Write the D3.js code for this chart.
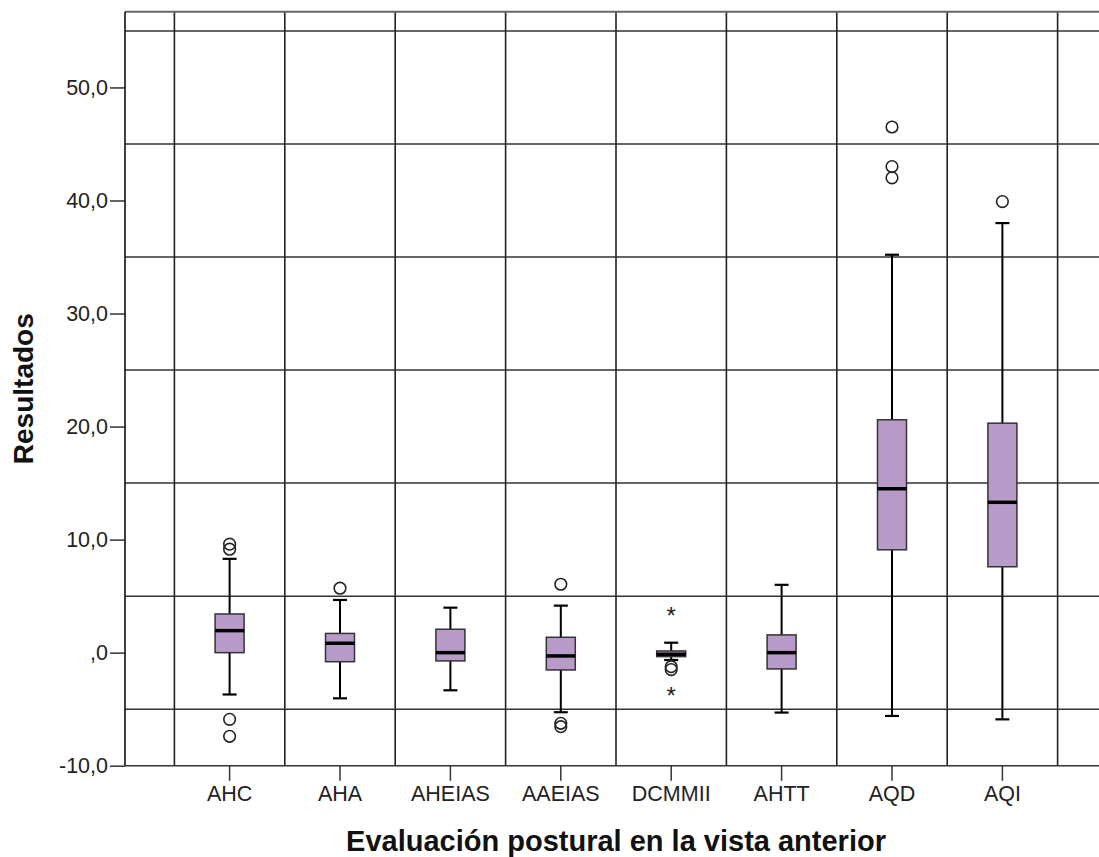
<!DOCTYPE html>
<html>
<head>
<meta charset="utf-8">
<script src="https://cdn.jsdelivr.net/npm/d3@7"></script>
<style>
  body { margin: 0; background: #fff; }
  text { font-family: Arial, "Liberation Sans", sans-serif; }
</style>
</head>
<body>
<div id="chart"></div>
<script>
// values
var categories = ['AHC', 'AHA', 'AHEIAS', 'AAEIAS', 'DCMMII', 'AHTT', 'AQD', 'AQI'];
var q1 =         [0.0, -0.8, -0.73, -1.53, -0.35, -1.44, 9.1, 7.6];
var medians =    [1.95, 0.83, 0.0, -0.29, -0.14, 0.0, 14.5, 13.3];
var q3 =         [3.42, 1.7, 2.07, 1.36, 0.15, 1.57, 20.6, 20.3];
var whiskerLow = [-3.7, -4.04, -3.33, -5.27, -0.65, -5.3, -5.6, -5.9];
var whiskerHigh = [8.3, 4.66, 3.98, 4.16, 0.88, 6.0, 35.2, 38.0];
var outliers = [
  [9.15, 9.6, -5.9, -7.4],
  [5.7],
  [],
  [6.05, -6.25, -6.55],
  [-1.24, -1.5],
  [],
  [46.5, 43.0, 42.0],
  [39.9]
];
var extremes = [[], [], [], [], [3.7, -3.4], [], [], []];
var yTicks = [-10, 0, 10, 20, 30, 40, 50];
var yGrid = [-5, 5, 15, 25, 35, 45, 55];

var W = 1099, H = 857;
var plotLeft = 125, plotTop = 11.7, plotBottom = 765.7, plotRight = 1110;

var svg = d3.select('#chart')
  .append('svg')
  .attr('width', W)
  .attr('height', H);

var x = d3.scaleBand().domain(categories).range([174.4, 1057.6]).padding(0),
    y = d3.scaleLinear().domain([-10, 56.7]).range([plotBottom, plotTop]);

var data = categories.map(function(c, i) {
  return { name: c, q1: q1[i], med: medians[i], q3: q3[i], lo: whiskerLow[i], hi: whiskerHigh[i],
           out: outliers[i], ext: extremes[i] };
});

// horizontal grid lines
svg.append('g').selectAll('line')
  .data(yGrid)
  .enter().append('line')
  .attr('x1', plotLeft).attr('x2', plotRight)
  .attr('y1', function(d) { return y(d); })
  .attr('y2', function(d) { return y(d); })
  .attr('stroke', '#333').attr('stroke-width', 1.5);

// vertical grid lines at band edges
var edges = categories.map(function(c) { return x(c); }).concat([x.range()[1]]);
svg.append('g').selectAll('line')
  .data(edges)
  .enter().append('line')
  .attr('x1', function(d) { return d; }).attr('x2', function(d) { return d; })
  .attr('y1', plotTop).attr('y2', plotBottom)
  .attr('stroke', '#222').attr('stroke-width', 1.6);

// top frame line
svg.append('line')
  .attr('x1', plotLeft).attr('x2', plotRight)
  .attr('y1', plotTop).attr('y2', plotTop)
  .attr('stroke', '#666').attr('stroke-width', 2);

// axes
var fmt = function(v) { return v === 0 ? ',0' : v.toFixed(1).replace('.', ','); };

var yAxis = svg.append('g')
  .attr('transform', 'translate(' + plotLeft + ',0)')
  .call(d3.axisLeft(y).tickValues(yTicks).tickFormat(fmt).tickSize(15).tickPadding(2));

var xAxis = svg.append('g')
  .attr('transform', 'translate(0,' + plotBottom + ')')
  .call(d3.axisBottom(x).tickSize(15).tickPadding(5));

[yAxis, xAxis].forEach(function(a) {
  a.select('.domain').remove();
  a.selectAll('line').attr('stroke', '#333').attr('stroke-width', 1.5);
  a.selectAll('text').attr('font-size', 21.5).attr('fill', '#222')
    .attr('font-family', 'Arial, "Liberation Sans", sans-serif');
});

svg.append('line')
  .attr('x1', plotLeft).attr('x2', plotLeft).attr('y1', plotTop).attr('y2', plotBottom)
  .attr('stroke', '#111').attr('stroke-width', 1.6);
svg.append('line')
  .attr('x1', plotLeft).attr('x2', plotRight).attr('y1', plotBottom).attr('y2', plotBottom)
  .attr('stroke', '#333').attr('stroke-width', 1.6);

// boxes
var boxW = 29, capW = 14;
var g = svg.selectAll('.box')
  .data(data)
  .enter().append('g')
  .attr('class', 'box')
  .attr('transform', function(d) { return 'translate(' + (x(d.name) + x.bandwidth() / 2) + ',0)'; });

g.append('line')
  .attr('x1', 0).attr('x2', 0)
  .attr('y1', function(d) { return y(d.hi); })
  .attr('y2', function(d) { return y(d.lo); })
  .attr('stroke', '#000').attr('stroke-width', 2);

g.append('line')
  .attr('x1', -capW / 2).attr('x2', capW / 2)
  .attr('y1', function(d) { return y(d.hi); })
  .attr('y2', function(d) { return y(d.hi); })
  .attr('stroke', '#000').attr('stroke-width', 2.2);

g.append('line')
  .attr('x1', -capW / 2).attr('x2', capW / 2)
  .attr('y1', function(d) { return y(d.lo); })
  .attr('y2', function(d) { return y(d.lo); })
  .attr('stroke', '#000').attr('stroke-width', 2.2);

g.append('rect')
  .attr('x', -boxW / 2)
  .attr('width', boxW)
  .attr('y', function(d) { return y(d.q3); })
  .attr('height', function(d) { return y(d.q1) - y(d.q3); })
  .attr('fill', '#b99bca')
  .attr('stroke', '#333').attr('stroke-width', 1.5);

g.append('line')
  .attr('x1', -boxW / 2).attr('x2', boxW / 2)
  .attr('y1', function(d) { return y(d.med); })
  .attr('y2', function(d) { return y(d.med); })
  .attr('stroke', '#000').attr('stroke-width', 3.5);

g.selectAll('circle')
  .data(function(d) { return d.out; })
  .enter().append('circle')
  .attr('cx', 0)
  .attr('cy', function(v) { return y(v); })
  .attr('r', 5.8)
  .attr('fill', 'none')
  .attr('stroke', '#222').attr('stroke-width', 1.6);

g.selectAll('.ext')
  .data(function(d) { return d.ext; })
  .enter().append('text')
  .attr('class', 'ext')
  .attr('x', 0)
  .attr('y', function(v) { return y(v) + 13; })
  .attr('text-anchor', 'middle')
  .attr('font-size', 24)
  .attr('fill', '#222')
  .text('*');

// axis titles
svg.append('text')
  .attr('x', (x.range()[0] + x.range()[1]) / 2)
  .attr('y', 851)
  .attr('text-anchor', 'middle')
  .attr('font-size', 29)
  .attr('font-weight', 'bold')
  .attr('fill', '#111')
  .text('Evaluación postural en la vista anterior');

svg.append('text')
  .attr('transform', 'translate(33,' + (plotTop + plotBottom) / 2 + ') rotate(-90)')
  .attr('text-anchor', 'middle')
  .attr('font-size', 28)
  .attr('font-weight', 'bold')
  .attr('fill', '#111')
  .text('Resultados');
</script>
</body>
</html>
